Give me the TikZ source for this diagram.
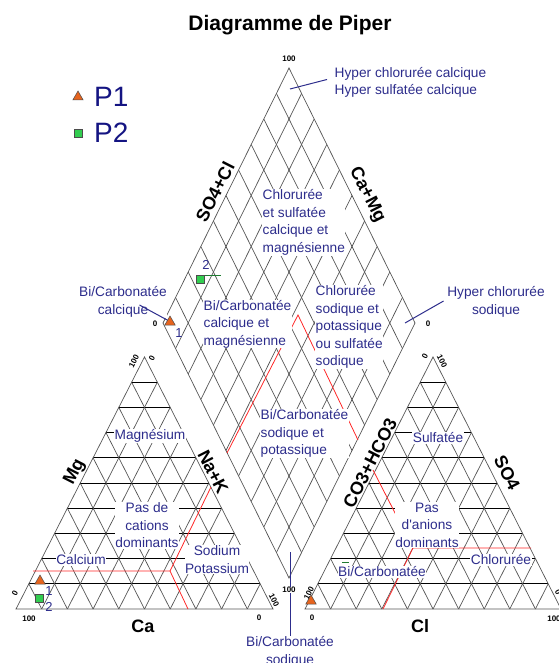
\documentclass[tikz,border=0pt]{standalone}
\usepackage{fontspec}
\setmainfont{Liberation Sans}
\usetikzlibrary{calc,shapes.geometric}
\definecolor{bleuzone}{RGB}{45,45,140}
\definecolor{bleulegende}{RGB}{20,20,130}
\definecolor{gris}{RGB}{85,85,85}
\definecolor{rouge}{RGB}{255,40,40}
\definecolor{orange1}{RGB}{230,100,30}
\definecolor{vert1}{RGB}{50,205,80}

\begin{document}
\begin{tikzpicture}[x = 1pt, y = {(0pt,-1pt)},
    grille/.style = {draw = gris, line width = 0.7pt},
    niveau/.style = {draw = black, line width = 0.8pt},
    limite/.style = {draw = rouge, line width = 0.8pt},
    zone/.style = {text = bleuzone, fill = white, inner sep = 0.5pt, align = center,
        font = \fontsize{13.7}{17.5}\selectfont},
    axe/.style = {font = \fontsize{18}{18}\selectfont\bfseries, inner sep = 0pt},
    grad/.style = {font = \fontsize{8}{8}\selectfont\bfseries, inner sep = 0.5pt},
    num/.style = {text = bleuzone, inner sep = 0pt, font = \fontsize{13}{13}\selectfont},
    renvoi/.style = {draw = bleuzone, line width = 1pt},
    pointA/.style = {regular polygon, regular polygon sides = 3, minimum size = 12pt,
        inner sep = 0pt, fill = orange1, draw = black!70, line width = 0.5pt},
    pointB/.style = {rectangle, minimum size = 8pt, inner sep = 0pt,
        fill = vert1, draw = black!70, line width = 0.5pt}]
    \useasboundingbox (0,0) rectangle (558,663);

    % sommets des deux triangles et du losange
    \coordinate (ca-A) at (16,609);
    \coordinate (ca-B) at (273,609);
    \coordinate (ca-C) at (144.5,357);
    \coordinate (an-A) at (305,609);
    \coordinate (an-B) at (561,609);
    \coordinate (an-C) at (433,357);
    \coordinate (losB) at (289,578);
    \coordinate (losL) at (163,323);
    \coordinate (losT) at (289,68);
    \coordinate (losR) at (415,323);

    % grilles
    \foreach \t in {ca, an} {
        \foreach \i in {1,...,9} {
            \draw[grille] ($(\t-A)!\i/10!(\t-B)$) -- ($(\t-C)!\i/10!(\t-B)$);
            \draw[grille] ($(\t-A)!\i/10!(\t-B)$) -- ($(\t-A)!\i/10!(\t-C)$);
            \draw[niveau] ($(\t-A)!\i/10!(\t-C)$) -- ($(\t-B)!\i/10!(\t-C)$);
        }
        \draw[grille] (\t-A) -- (\t-B) -- (\t-C) -- cycle;
    }
    \foreach \i in {1,...,9} {
        \draw[grille] ($(losB)!\i/10!(losL)$) -- ($(losR)!\i/10!(losT)$);
        \draw[grille] ($(losB)!\i/10!(losR)$) -- ($(losL)!\i/10!(losT)$);
    }
    \draw[grille] (losB) -- (losL) -- (losT) -- (losR) -- cycle;

    % limites des facies
    \draw[limite] (33,571) -- (170,571) -- (188,609);
    \draw[limite] (170,571) -- (211,487);
    \draw[limite] (531,548) -- (413,548) -- (383,609);
    \draw[limite] (413,548) -- (373,470);
    \draw[limite] (227,453) -- (298,315) -- (358,440);

    \node[font = \fontsize{21}{21}\selectfont\bfseries] (titre) at (290,25) {Diagramme de Piper};

    % legende
    \node[pointA] (legP1) at (78,97) {};
    \node[pointB] (legP2) at (78,133) {};
    \node[anchor = west, inner sep = 0pt, text = bleulegende, font = \fontsize{28}{28}\selectfont] (legP1txt) at (94,97) {P1};
    \node[anchor = west, inner sep = 0pt, text = bleulegende, font = \fontsize{28}{28}\selectfont] (legP2txt) at (94,133) {P2};

    % facies du losange
    \node[zone, align = left, anchor = west] (hyperCa) at (334,82.5) {Hyper chlorurée calcique\\Hyper sulfatée calcique};
    \coordinate (hyperCaPt) at (290,89);
    \draw[renvoi] (hyperCaPt) -- ([xshift = -7pt, yshift = 3pt]hyperCa.west);
    \node[zone, align = left, anchor = west] (chlSulf) at (262,222.5) {Chlorurée\\et sulfatée\\calcique et\\magnésienne};
    \node[zone, align = left, anchor = west] (biCaMg) at (203,324) {Bi/Carbonatée\\calcique et\\magnésienne};
    \node[zone, align = left, anchor = west] (chlNaK) at (315,327) {Chlorurée\\sodique et\\potassique\\ou sulfatée\\sodique};
    \node[zone, align = left, anchor = west] (biNaK) at (260,433.5) {Bi/Carbonatée\\sodique et\\potassique};
    \node[zone] (biCa) at (123,302) {Bi/Carbonatée\\calcique};
    \coordinate (biCaPt) at (169,321);
    \draw[renvoi] ([xshift = -28pt, yshift = -3pt]biCa.east) -- (biCaPt);
    \node[zone] (hyperNa) at (496,302) {Hyper chlorurée\\sodique};
    \coordinate (hyperNaPt) at (405,323);
    \draw[renvoi] (hyperNaPt) -- ([xshift = -3pt, yshift = 1pt]hyperNa.west);
    \node[zone] (biNa) at (290,652) {Bi/Carbonatée\\sodique};
    \coordinate (biNaPt) at (290,552);
    \draw[renvoi] (biNaPt) -- (biNa.north);

    % facies des triangles
    \node[zone] (mg) at (150,436) {Magnésium};
    \node[zone] (pasCat) at (147,525.5) {Pas de\\cations\\dominants};
    \node[zone] (calcium) at (81,560) {Calcium};
    \node[zone] (sodium) at (217,559.5) {Sodium\\Potassium};
    \node[zone] (sulf) at (438,438) {Sulfatée};
    \node[zone] (pasAn) at (427,525) {Pas\\d\textquotesingle anions\\dominants};
    \node[zone] (chlor) at (501,560) {Chlorurée};
    \node[zone] (biCarb) at (382,572) {Bi/Carbonatée};

    % axes
    \node[axe, rotate = 63] (axMg) at (75,472) {Mg};
    \node[axe, rotate = -63] (axNaK) at (213,472) {Na+K};
    \node[axe] (axCa) at (143,626) {Ca};
    \node[axe, rotate = 63] (axSO4Cl) at (215,192) {SO4+Cl};
    \node[axe, rotate = -63] (axCaMg) at (367,195) {Ca+Mg};
    \node[axe, rotate = 63] (axCO3) at (370,463) {CO3+HCO3};
    \node[axe, rotate = -63] (axSO4) at (507,473) {SO4};
    \node[axe] (axCl) at (420,626) {Cl};

    % graduations
    \node[grad] (gT) at (289,59) {100};
    \node[grad] (gL) at (155,324) {0};
    \node[grad] (gR) at (428,324) {0};
    \node[grad, fill = white] (gB) at (289,590) {100};
    \node[grad, rotate = 63] (gCa1) at (134,361) {100};
    \node[grad, rotate = 63] (gCa2) at (152,358) {0};
    \node[grad, rotate = 63] (gCa3) at (15,593) {0};
    \node[grad] (gCa4) at (29,619) {100};
    \node[grad] (gCa5) at (259,618) {0};
    \node[grad, rotate = -63] (gCa6) at (274,600) {100};
    \node[grad, rotate = 63] (gAn1) at (425,356) {0};
    \node[grad, rotate = -63] (gAn2) at (442,361) {100};
    \node[grad, rotate = 63] (gAn3) at (309,593) {100};
    \node[grad] (gAn4) at (312,618) {0};
    \node[grad] (gAn5) at (554,619) {100};
    \node[grad, rotate = -63] (gAn6) at (558,592) {0};

    % echantillons
    \node[pointA] (p1los) at (170,322) {};
    \node[num] (n1los) at (179,333) {1};
    \draw[vert1!60!black, line width = 0.8pt] (200,275) -- (221,275);
    \node[pointB] (p2los) at (200,279) {};
    \node[num] (n2los) at (206,265) {2};
    \node[pointA] (p1ca) at (40,581) {};
    \node[num] (n1ca) at (49,591) {1};
    \node[pointB] (p2ca) at (39,598) {};
    \node[num] (n2ca) at (49,607) {2};
    \node[pointA] (p1an) at (311,601) {};
    \draw[vert1!60!black, line width = 0.8pt] (342,562) -- (349,562);
\end{tikzpicture}
\end{document}
